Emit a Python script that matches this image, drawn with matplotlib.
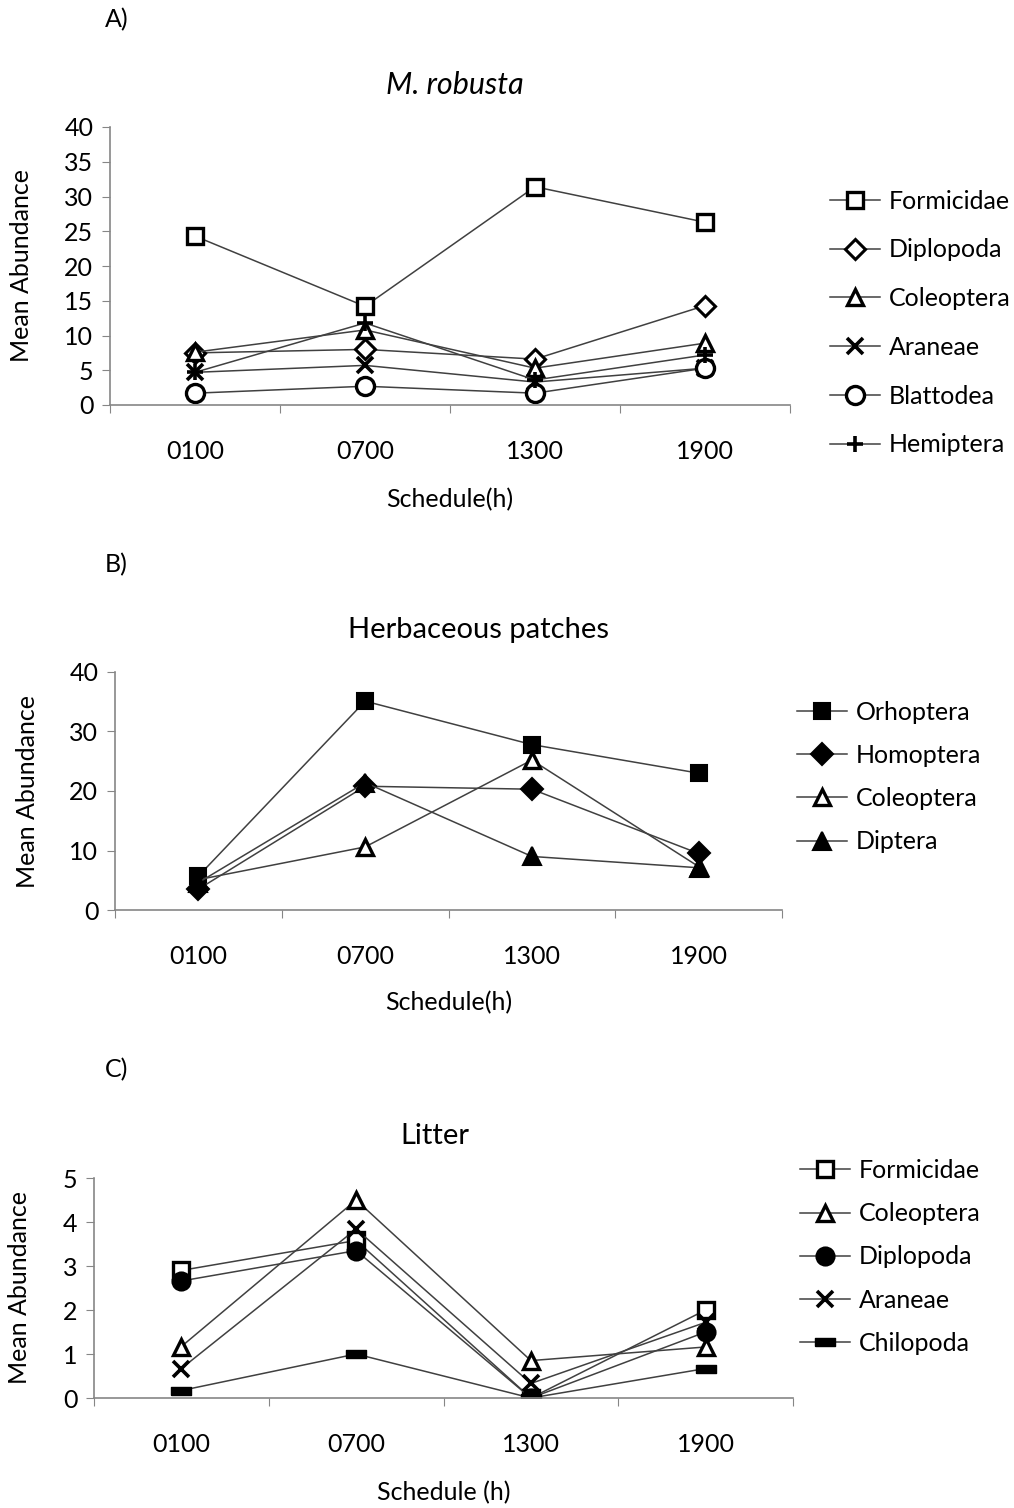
import matplotlib
matplotlib.use('Agg')
import matplotlib.pyplot as plt
import numpy as np

plt.rcParams['font.family'] = ['Lato', 'DejaVu Sans']

hours = ['0100', '0700', '1300', '1900']

# A) M. robusta
a_names = ['Formicidae', 'Diplopoda', 'Coleoptera', 'Araneae', 'Blattodea', 'Hemiptera']
a_formicidae = [24.3, 14.2, 31.4, 26.3]
a_diplopoda = [7.5, 8.0, 6.6, 14.3]
a_coleoptera = [7.6, 10.8, 5.3, 8.9]
a_araneae = [4.7, 5.7, 3.3, 5.3]
a_blattodea = [1.7, 2.7, 1.7, 5.3]
a_hemiptera = [4.7, 11.8, 3.6, 7.2]

# B) Herbaceous patches
b_names = ['Orhoptera', 'Homoptera', 'Coleoptera', 'Diptera']
b_orhoptera = [5.7, 35.1, 27.8, 23.0]
b_homoptera = [3.5, 20.8, 20.3, 9.5]
b_coleoptera = [5.1, 10.6, 25.2, 7.3]
b_diptera = [4.6, 21.4, 9.0, 7.1]

# C) Litter
c_names = ['Formicidae', 'Coleoptera', 'Diplopoda', 'Araneae', 'Chilopoda']
c_formicidae = [2.9, 3.58, 0.0, 2.0]
c_coleoptera = [1.17, 4.5, 0.85, 1.16]
c_diplopoda = [2.66, 3.35, 0.0, 1.5]
c_araneae = [0.67, 3.84, 0.33, 1.72]
c_chilopoda = [0.17, 1.0, 0.0, 0.67]

W, H = 1014, 1508
fig = plt.figure(figsize=(W / 100, H / 100), dpi=100)

axis_col = '#868686'
line_col = '#404040'
fs = 18
bar = [(-1, -0.4), (1, -0.4), (1, 0.4), (-1, 0.4), (-1, -0.4)]

styles = {
    'sq_open': dict(marker='s', mfc='white', mec='black', ms=12, mew=2.4),
    'sq_fill': dict(marker='s', mfc='black', mec='black', ms=12, mew=1.5),
    'dia_open': dict(marker='D', mfc='white', mec='black', ms=10, mew=2.2),
    'dia_fill': dict(marker='D', mfc='black', mec='black', ms=11, mew=1.5),
    'tri_open': dict(marker='^', mfc='white', mec='black', ms=12, mew=2.4),
    'tri_fill': dict(marker='^', mfc='black', mec='black', ms=13, mew=1.5),
    'x': dict(marker='x', mfc='black', mec='black', ms=11, mew=2.6),
    'o_open': dict(marker='o', mfc='white', mec='black', ms=13, mew=2.4),
    'o_fill': dict(marker='o', mfc='black', mec='black', ms=13, mew=1.5),
    'plus': dict(marker='+', mfc='black', mec='black', ms=12, mew=2.6),
    'bar': dict(marker=bar, mfc='black', mec='black', ms=15, mew=1),
}


def px_axes(left, right, top, bottom):
    return fig.add_axes([left / W, 1 - bottom / H, (right - left) / W, (bottom - top) / H])


def draw_panel(box, series, names, marks, ymax, ystep, title, title_fs, italic, letter, letter_xy,
               ylab_x, title_x, xlab, xlab_y, leg_x, leg_y, leg_space):
    ax = px_axes(*box)
    x = np.arange(len(hours))
    for vals, name, m in zip(series, names, marks):
        ax.plot(x, vals, color=line_col, lw=1.1, label=name, **styles[m])

    ax.set_xlim(-0.5, len(hours) - 0.5)
    ax.set_ylim(0, ymax)
    ax.set_yticks(np.arange(0, ymax + ystep / 2, ystep))
    # ticks between categories, labels centred on them
    ax.set_xticks(np.arange(-0.5, len(hours), 1.0))
    ax.set_xticklabels([])
    ax.set_xticks(x, minor=True)
    ax.set_xticklabels(hours, minor=True)
    ax.tick_params(axis='x', which='minor', length=0, pad=25, labelsize=fs)
    ax.tick_params(axis='x', which='major', length=6, color=axis_col, direction='out')
    ax.tick_params(axis='y', length=6, color=axis_col, direction='out', labelsize=fs, pad=6)
    for s in ['top', 'right']:
        ax.spines[s].set_visible(False)
    for s in ['left', 'bottom']:
        ax.spines[s].set_color(axis_col)
        ax.spines[s].set_linewidth(1.2)

    fig.text(ylab_x / W, 1 - (box[2] + box[3]) / 2 / H, 'Mean Abundance', rotation=90,
             ha='center', va='center', fontsize=fs)
    fig.text(title_x / W, 1 - (box[2] - 42) / H, title, ha='center', va='center', fontsize=title_fs,
             style='italic' if italic else 'normal')
    fig.text(letter_xy[0] / W, 1 - letter_xy[1] / H, letter, ha='left', va='center', fontsize=fs)
    fig.text((box[0] + box[1]) / 2 / W, 1 - xlab_y / H, xlab, ha='center', va='center', fontsize=fs)

    ax.legend(loc='center left', bbox_to_anchor=(leg_x / W, 1 - leg_y / H),
              bbox_transform=fig.transFigure, frameon=False, fontsize=fs,
              handlelength=2.0, handletextpad=0.35, borderpad=0, borderaxespad=0,
              labelspacing=leg_space)
    return ax


draw_panel((110, 790, 127, 405),
           [a_formicidae, a_diplopoda, a_coleoptera, a_araneae, a_blattodea, a_hemiptera],
           a_names, ['sq_open', 'dia_open', 'tri_open', 'x', 'o_open', 'plus'],
           40, 5, 'M. robusta', 22, True, 'A)', (105, 20), 22, 455, 'Schedule(h)', 500,
           830, 323, 1.03)

draw_panel((115, 782, 672, 910),
           [b_orhoptera, b_homoptera, b_coleoptera, b_diptera],
           b_names, ['sq_fill', 'dia_fill', 'tri_open', 'tri_fill'],
           40, 10, 'Herbaceous patches', 21, False, 'B)', (105, 565), 28, 478, 'Schedule(h)', 1003,
           797, 777, 0.81)

draw_panel((94, 793, 1178, 1398),
           [c_formicidae, c_coleoptera, c_diplopoda, c_araneae, c_chilopoda],
           c_names, ['sq_open', 'tri_open', 'o_fill', 'x', 'bar'],
           5, 1, 'Litter', 21, False, 'C)', (105, 1070), 20, 435, 'Schedule (h)', 1493,
           800, 1257, 0.81)

fig.savefig('out.png', dpi=100, facecolor='white')
